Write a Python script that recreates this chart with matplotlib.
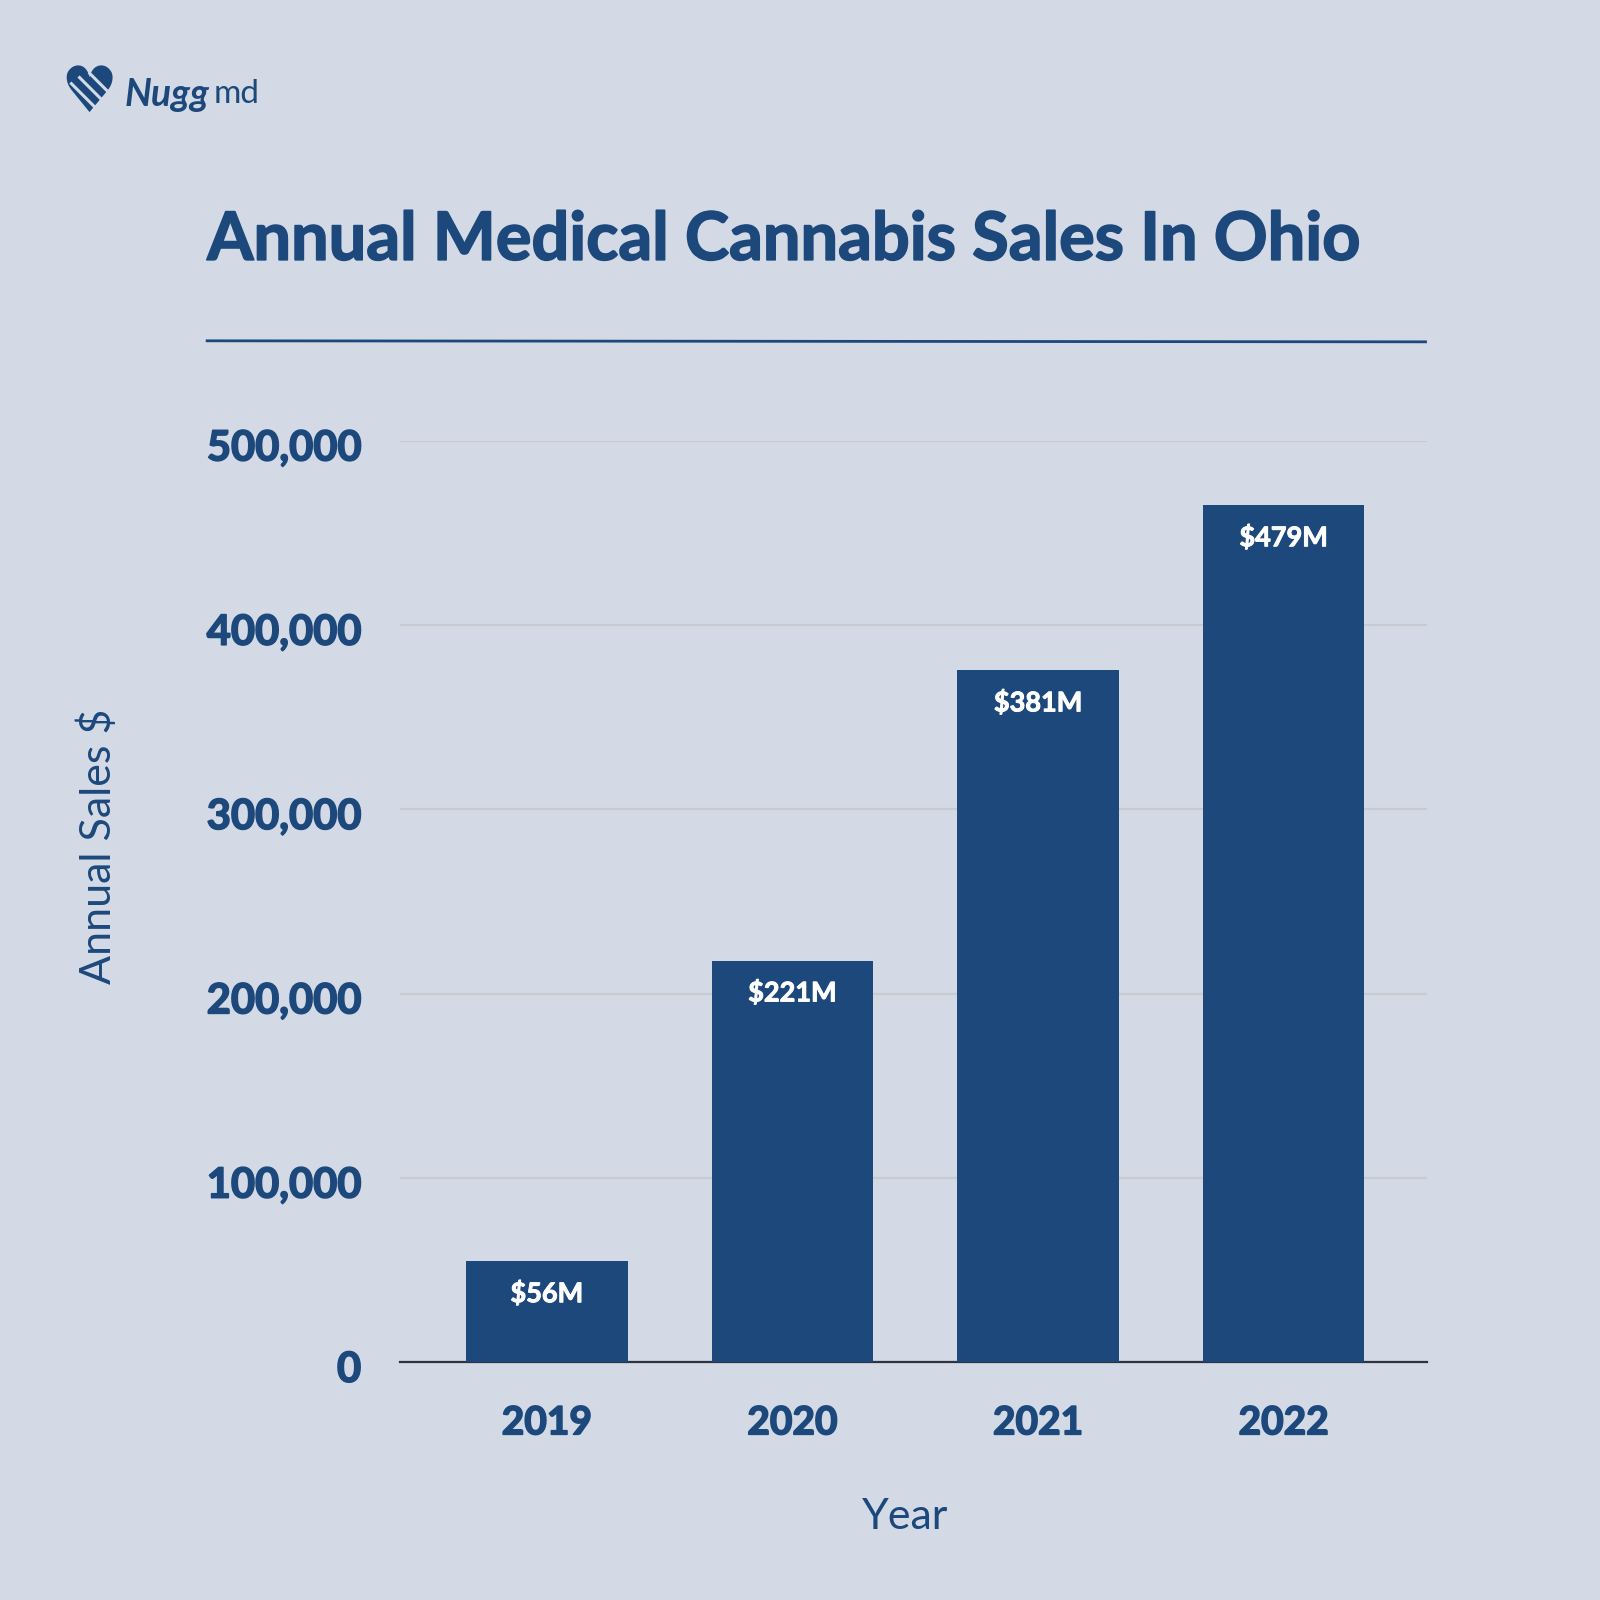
import matplotlib
matplotlib.use("Agg")
import matplotlib.pyplot as plt
import matplotlib.patheffects as pe
from matplotlib.transforms import ScaledTranslation

years = ["2019", "2020", "2021", "2022"]
sales = [54800, 218000, 375400, 465000]
bar_labels = ["$56M", "$221M", "$381M", "$479M"]
y_ticks = [0, 100000, 200000, 300000, 400000, 500000]

navy = "#1C487B"
bg = "#D3DAE5"
W = 1568.0

plt.rcParams["font.family"] = ["Lato", "DejaVu Sans"]

# slight outline to get closer to the heavy geometric face of the original
heavy = [pe.withStroke(linewidth=1.2, foreground=navy)]
heavy_white = [pe.withStroke(linewidth=0.7, foreground="white")]

fig = plt.figure(figsize=(16, 16), dpi=100, facecolor=bg)
ax = fig.add_axes([392 / W, 1 - 1335 / W, (1398 - 392) / W, (1335 - 432) / W], facecolor="none")

x = range(len(years))
ax.bar(x, sales, width=0.657, color=navy, zorder=3)
ax.set_xlim(-0.598, 3.582)
ax.set_ylim(0, 500000)

for i, lab in enumerate(bar_labels):
    ax.annotate(lab, (i, sales[i]), xytext=(0, -23), textcoords="offset points", ha="center",
                va="center", color="white", fontsize=19.5, fontweight="bold", zorder=4,
                path_effects=heavy_white)

ax.set_yticks(y_ticks)
ax.set_yticklabels([f"{v:,}" for v in y_ticks], fontsize=30, fontweight="bold", color=navy)
ax.set_xticks(list(x))
ax.set_xticklabels(years, fontsize=28, fontweight="bold", color=navy)
ax.tick_params(axis="both", length=0)
ax.tick_params(axis="y", pad=28)
ax.tick_params(axis="x", pad=31)
down = ScaledTranslation(0, -3 / 72, fig.dpi_scale_trans)
for t in ax.get_yticklabels():
    t.set_transform(t.get_transform() + down)
    t.set_path_effects(heavy)
for t in ax.get_xticklabels():
    t.set_path_effects(heavy)
ax.grid(axis="y", color="#C9CBD2", linewidth=1.6, zorder=1)
for s in ["top", "right", "left"]:
    ax.spines[s].set_visible(False)
ax.spines["bottom"].set_color("#2B3440")
ax.spines["bottom"].set_linewidth(1.6)

fig.text(203 / W, 1 - 236 / W, "Annual Medical Cannabis Sales In Ohio", fontsize=48, fontweight="bold",
         color=navy, va="center", ha="left", path_effects=heavy)
fig.add_artist(plt.Line2D([203 / W, 1397 / W], [1 - 334 / W, 1 - 335 / W], color=navy, linewidth=2))
fig.text(887 / W, 1 - 1487 / W, "Year", fontsize=31, color=navy, ha="center", va="center")
fig.text(96 / W, 1 - 829 / W, "Annual Sales $", fontsize=31, color=navy, rotation=90, ha="center", va="center")

# logo
fig.text(122 / W, 1 - 93 / W, "Nugg", fontsize=27, style="italic", color=navy, ha="left", va="center", fontweight="bold")
fig.text(209 / W, 1 - 92 / W, "md", fontsize=24, color=navy, ha="left", va="center")
fig.text(87 / W, 1 - 92 / W, "\u2665", fontsize=46, color=navy, ha="center", va="center", family="DejaVu Sans")
for x0, y0, x1, y1 in [(70, 82, 92, 104), (78, 76, 101, 99), (88, 72, 107, 91)]:
    fig.add_artist(plt.Line2D([x0 / W, x1 / W], [1 - y0 / W, 1 - y1 / W], color=bg, linewidth=2.2, zorder=5))

fig.savefig("out.png", dpi=100, facecolor=bg)
